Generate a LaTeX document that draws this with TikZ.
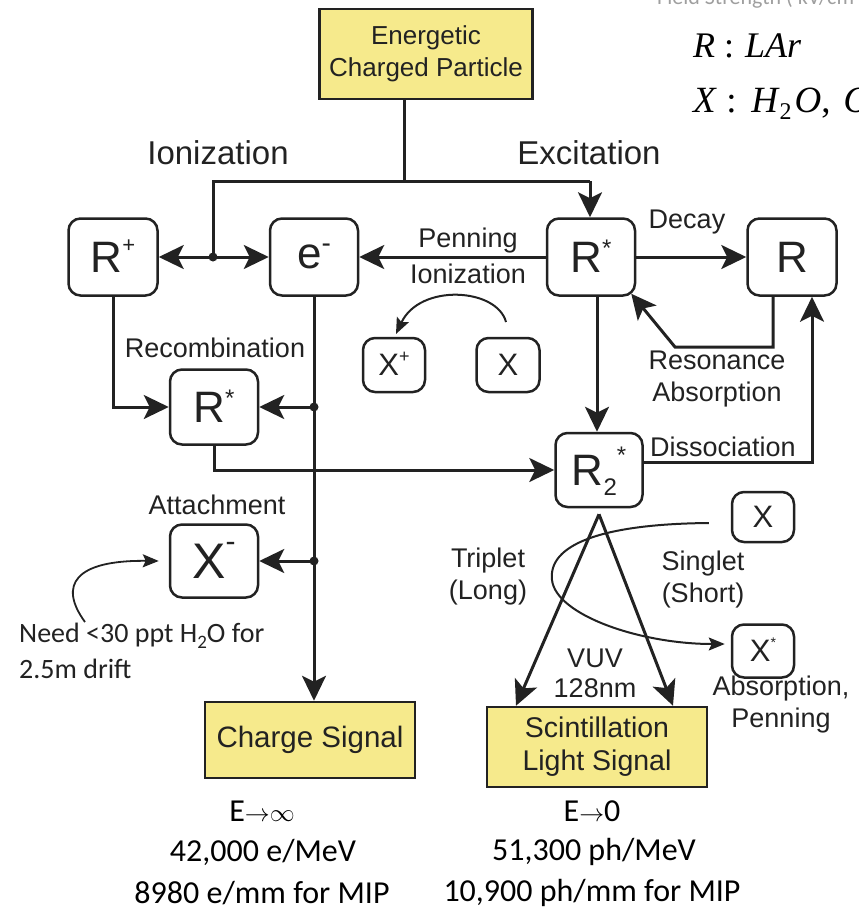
\documentclass[tikz,border=0pt]{standalone}
\usepackage{fontspec}
\usepackage{graphicx}
\setmainfont{Liberation Sans}
\newfontfamily\calib{Carlito}
\newfontfamily\tms{Liberation Serif}
\usetikzlibrary{arrows.meta}
\definecolor{ink}{HTML}{222222}
\definecolor{yfill}{RGB}{246,234,140}
\newcommand\up[3]{\raisebox{#1}[0pt][0pt]{\fontsize{#2}{#2}\selectfont #3}}
\tikzset{
  ln/.style={draw=ink, line width=3pt},
  arr/.style={ln, -{Stealth[length=25pt,width=24pt,inset=6pt]}},
  thinarr/.style={draw=ink, line width=2pt, -{Stealth[length=16pt,width=13pt,inset=3pt]}},
  rbox/.style={draw=ink, line width=2.5pt, rounded corners=12pt, inner sep=0pt, text=ink},
  bigf/.style={font=\fontsize{44}{44}\selectfont},
  ybox/.style={draw=ink, fill=yfill, line width=2.5pt, inner sep=0pt, align=center, text=ink},
  lbl/.style={text=ink, font=\fontsize{27}{32}\selectfont, align=center, inner sep=0pt},
  bot/.style={text=black, font=\calib\fontsize{32}{32}\selectfont, inner sep=0pt}
}
\begin{document}
\begin{tikzpicture}[x=1pt,y=-1pt]
\useasboundingbox (0,0) rectangle (859,918);
\clip (0,0) rectangle (859,918);

% top-right notes
\node[anchor=base west, text=gray!75, font=\calib\fontsize{22}{22}\selectfont, inner sep=0pt] (fsn) at (657,5) {Field Strength ( kV/cm )};
\node[anchor=base west, text=black, font=\tms\fontsize{36}{36}\selectfont, inner sep=0pt] (rlab) at (693,57) {\textit{R}\hspace{0.25em}:\hspace{0.3em}\textit{LAr}};
\node[anchor=base west, text=black, font=\tms\fontsize{37}{37}\selectfont, inner sep=0pt] (xlab) at (693,112) {\textit{X}\hspace{0.25em}:\hspace{0.4em}\textit{H}\up{-7pt}{24}{2}\hspace{0.08em}\textit{O},\hspace{0.35em}\textit{O}};

% yellow boxes
\node[ybox, font=\fontsize{26}{32}\selectfont, minimum width=213pt, minimum height=90pt] (energ) at (426,54) {Energetic\\Charged Particle};
\node[ybox, font=\fontsize{29.5}{33}\selectfont, minimum width=210pt, minimum height=76pt] (charge) at (310,740) {Charge Signal};
\node[ybox, font=\fontsize{28.5}{33}\selectfont, minimum width=220pt, minimum height=80pt] (scint) at (597,747) {Scintillation\\Light Signal};

% rounded boxes
\node[rbox, bigf, minimum width=89pt, minimum height=77pt] (Rp) at (113,257) {R\up{20pt}{22}{+}};
\node[rbox, bigf, minimum width=88pt, minimum height=77pt] (em) at (314,257) {e\up{16pt}{28}{-}};
\node[rbox, bigf, minimum width=88pt, minimum height=77pt] (Rs1) at (591,257) {R\up{16pt}{24}{*}};
\node[rbox, bigf, minimum width=89pt, minimum height=77pt] (R) at (792,257) {R};
\node[rbox, font=\fontsize{31}{31}\selectfont, minimum width=62pt, minimum height=54pt] (Xp) at (394,365) {X\up{13pt}{18}{+}};
\node[rbox, font=\fontsize{31}{31}\selectfont, minimum width=63pt, minimum height=54pt] (X) at (508,365) {X};
\node[rbox, bigf, minimum width=88pt, minimum height=75pt] (Rs2) at (214,407) {R\up{16pt}{24}{*}};
\node[rbox, bigf, minimum width=87pt, minimum height=74pt] (R2) at (599,470) {R\up{-10pt}{24}{2}\up{22pt}{24}{*}};
\node[rbox, font=\fontsize{50}{50}\selectfont, minimum width=88pt, minimum height=73pt] (Xm) at (214,561) {X\up{27pt}{30}{-}};
\node[rbox, font=\fontsize{31}{31}\selectfont, minimum width=62pt, minimum height=50pt] (Xr) at (763,517) {X};
\node[rbox, font=\fontsize{31}{31}\selectfont, minimum width=62pt, minimum height=53pt] (Xs) at (763,651) {X\up{14pt}{14}{*}};

% labels
\node[lbl, font=\fontsize{33}{33}\selectfont] (lion) at (218,153) {Ionization};
\node[lbl, font=\fontsize{33}{33}\selectfont] (lexc) at (589,153) {Excitation};
\node[lbl] (lpen) at (468,256) {Penning\\[4pt]Ionization};
\node[lbl] (ldec) at (687,222) {Decay};
\node[lbl] (lrec) at (215,348) {Recombination};
\node[lbl] (lres) at (717,379) {Resonance\\Absorption};
\node[lbl] (ldis) at (723,447) {Dissociation};
\node[lbl] (latt) at (217,505) {Attachment};
\node[lbl] (ltri) at (488,577) {Triplet\\(Long)};
\node[lbl] (lsin) at (703,580) {Singlet\\(Short)};
\node[lbl] (lvuv) at (595,673) {VUV\\[-2pt]128nm};
\node[lbl] (labs) at (781,705) {Absorption,\\Penning};
\node[anchor=north west, text=ink, font=\calib\fontsize{28}{36}\selectfont, align=left, inner sep=0pt] (need) at (19,623) {Need {<}30 ppt H\up{-6pt}{19}{2}O for\\2.5m drift};

% bottom texts
\node[bot] (b1) at (262,811) {E$\rightarrow$$\infty$};
\node[bot] (b2) at (263,852) {42,000 e/MeV};
\node[bot] (b3) at (262,893) {8980 e/mm for MIP};
\node[bot] (b4) at (592,811) {E$\rightarrow$0};
\node[bot] (b5) at (594,852) {51,300 ph/MeV};
\node[bot] (b6) at (592,893) {10,900 ph/mm for MIP};

% trunk and ionization/excitation branches
\coordinate (jtop) at (404,181);
\coordinate (bl) at (213,181);
\coordinate (br) at (590,181);
\coordinate (jd) at (213,257);
\draw[ln] (energ.south -| jtop) -- (jtop);
\draw[ln] (jd) -- (bl) -- (br);
\draw[arr] (jd) -- (Rp.east);
\draw[arr] (jd) -- (em.west);
\fill[ink] (jd) circle (4.5pt);
\draw[arr] (br) -- (br |- Rs1.north);

% top row
\draw[arr] (Rs1.west) -- (em.east);
\draw[arr] (Rs1.east) -- (R.west);
\coordinate (ps) at (506,322);
\coordinate (pe) at (396,334);
\draw[thinarr] (ps) .. controls (497,288) and (420,283) .. (pe);

% right side
\draw[arr] ([xshift=6pt]Rs1.south) -- ([xshift=6pt]Rs1.south |- R2.north);
\coordinate (rc) at (675,347);
\draw[arr] ([xshift=-19pt]R.south) |- (rc) -- ([shift={(-5pt,3pt)}]Rs1.south east);
\draw[arr] ([yshift=8pt]R2.east) -| ([xshift=20pt]R.south);

% left side
\draw[arr] (Rp.south) |- (Rs2.west);
\coordinate (d1) at (em.south |- Rs2.east);
\coordinate (d2) at (em.south |- Xm.east);
\draw[arr] (em.south) -- (em.south |- charge.north);
\draw[arr] (d1) -- (Rs2.east);
\draw[arr] (d2) -- (Xm.east);
\fill[ink] (d1) circle (4.5pt);
\fill[ink] (d2) circle (4.5pt);
\draw[arr] (Rs2.south) |- (R2.west);

% triplet / singlet
\coordinate (apx) at ([yshift=-6pt]R2.south);
\draw[arr] (apx) -- ([xshift=-81pt]scint.north);
\draw[arr] (apx) -- ([xshift=76pt]scint.north);

% X -> X* curve
\coordinate (xs0) at ([shift={(-22pt,-6pt)}]Xr.west);
\coordinate (xs1) at ([shift={(-6pt,7pt)}]Xs.west);
\draw[thinarr] (xs0) .. controls (600,524) and (548,545) .. (552,580) .. controls (556,615) and (640,644) .. (xs1);

% note curve
\coordinate (n0) at (85,622);
\coordinate (n1) at ([xshift=-10pt]Xm.west);
\draw[thinarr, line width=1.8pt] (n0) .. controls (58,585) and (75,560) .. (n1);
\end{tikzpicture}
\end{document}
